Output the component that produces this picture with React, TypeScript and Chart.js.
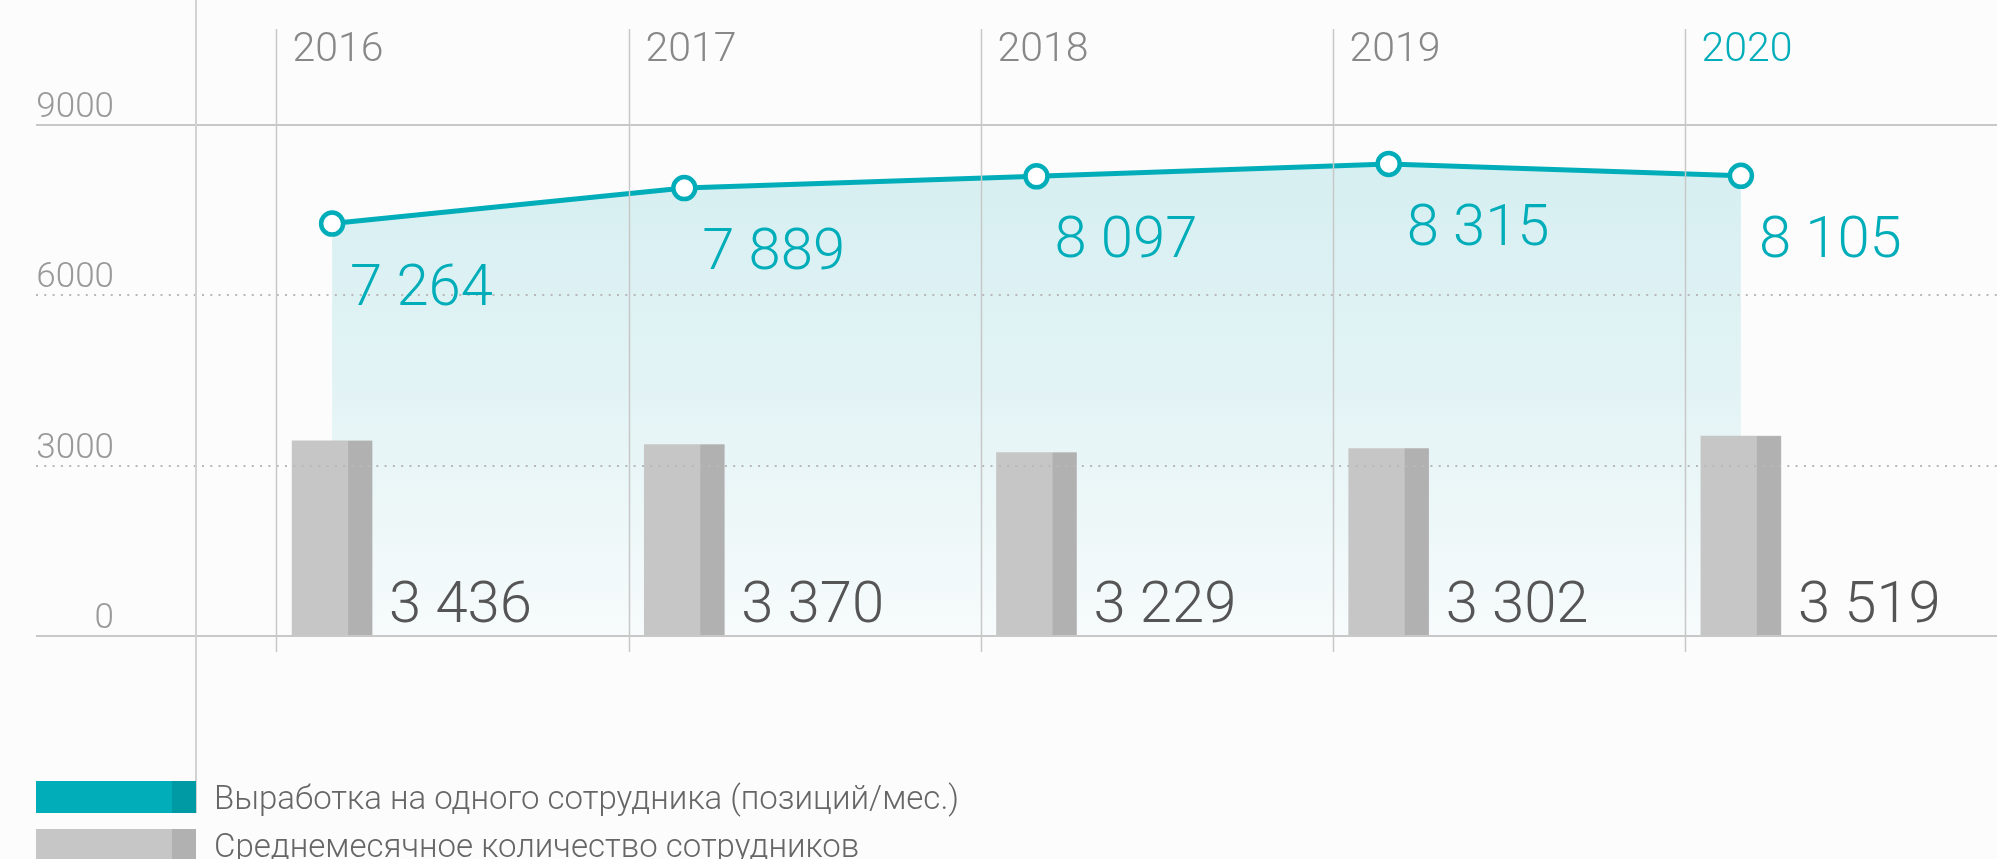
import React, { useEffect, useRef } from 'react';
import { Chart, registerables } from 'chart.js';

Chart.register(...registerables);

// ---- data ----
const YEARS = ['2016', '2017', '2018', '2019', '2020'];
const OUTPUT_PER_EMPLOYEE = [7264, 7889, 8097, 8315, 8105];
const AVG_EMPLOYEES = [3436, 3370, 3229, 3302, 3519];
const Y_TICKS = [0, 3000, 6000, 9000];
const SERIES_NAMES = [
  'Выработка на одного сотрудника (позиций/мес.)',
  'Среднемесячное количество сотрудников',
];

// ---- style ----
const TEAL = '#00adb9';
const TEAL_DARK = '#009aa4';
const BAR_LIGHT = '#c6c6c6';
const BAR_DARK = '#b1b1b1';
const BG = '#fcfcfc';
const FONT = 'Roboto, "Open Sans", sans-serif';
const W = 1997;
const H = 859;

const fmt = (n: number) => String(n).replace(/\B(?=(\d{3})+(?!\d))/g, ' ');

const decor = {
  id: 'decor',
  afterDatasetDraw(chart: any, args: any) {
    const meta = args.meta;
    if (meta.type !== 'bar') return;
    const ctx = chart.ctx;
    ctx.save();
    ctx.fillStyle = BAR_DARK;
    meta.data.forEach((el: any) => {
      const right = el.x + el.width / 2;
      const dw = el.width * 0.3;
      ctx.fillRect(right - dw, el.y, dw, el.base - el.y);
    });
    ctx.restore();
  },
  afterDatasetsDraw(chart: any) {
    const ctx = chart.ctx;
    const xs = chart.scales.x;
    const ys = chart.scales.y;
    const area = chart.chartArea;
    const step = xs.getPixelForValue(1) - xs.getPixelForValue(0);
    ctx.save();

    // horizontal grid lines
    const gridLeft = 36;
    Y_TICKS.forEach((t, i) => {
      const y = Math.round(ys.getPixelForValue(t));
      const solid = i === 0 || i === Y_TICKS.length - 1;
      ctx.beginPath();
      if (solid) {
        ctx.setLineDash([]);
        ctx.strokeStyle = '#c8c8c8';
        ctx.lineWidth = 2;
      } else {
        ctx.setLineDash([2, 6.3]);
        ctx.strokeStyle = '#b8b8b8';
        ctx.lineWidth = 2;
      }
      ctx.moveTo(gridLeft, y);
      ctx.lineTo(chart.width, y);
      ctx.stroke();
      // tick label
      ctx.setLineDash([]);
      ctx.fillStyle = '#999999';
      ctx.font = `300 35px ${FONT}`;
      ctx.textAlign = 'right';
      ctx.textBaseline = 'alphabetic';
      ctx.fillText(String(t), 114, y - 8);
    });

    // left vertical line
    ctx.setLineDash([]);
    ctx.strokeStyle = '#d2d2d2';
    ctx.lineWidth = 2;
    ctx.beginPath();
    ctx.moveTo(196, 0);
    ctx.lineTo(196, 813);
    ctx.stroke();

    // category lines and year labels
    YEARS.forEach((yr, i) => {
      const x = Math.round(xs.getPixelForValue(i) - step * 0.158) + 0.5;
      ctx.strokeStyle = '#c8c8c8';
      ctx.lineWidth = 1.5;
      ctx.beginPath();
      ctx.moveTo(x, area.top - 96);
      ctx.lineTo(x, area.bottom + 16);
      ctx.stroke();
      ctx.fillStyle = i === YEARS.length - 1 ? TEAL : '#888888';
      ctx.font = `300 41px ${FONT}`;
      ctx.textAlign = 'left';
      ctx.textBaseline = 'alphabetic';
      ctx.fillText(yr, x + 16, area.top - 64);
    });

    // value labels
    const lineMeta = chart.getDatasetMeta(0);
    const barMeta = chart.getDatasetMeta(1);
    ctx.font = `300 58px ${FONT}`;
    ctx.textAlign = 'left';
    ctx.textBaseline = 'alphabetic';
    lineMeta.data.forEach((pt: any, i: number) => {
      ctx.fillStyle = TEAL;
      ctx.fillText(fmt(OUTPUT_PER_EMPLOYEE[i]), pt.x + 18, pt.y + 81);
    });
    barMeta.data.forEach((b: any, i: number) => {
      ctx.fillStyle = '#555555';
      ctx.fillText(fmt(AVG_EMPLOYEES[i]), b.x + b.width / 2 + 17, b.base - 14);
    });
    ctx.restore();
  },
};

export default function App() {
  const ref = useRef<HTMLCanvasElement>(null);

  useEffect(() => {
    document.body.style.margin = '0';
    document.body.style.background = BG;
    const canvas = ref.current;
    if (!canvas) return;
    const chart = new Chart(canvas, {
      type: 'bar',
      data: {
        labels: YEARS,
        datasets: [
          {
            type: 'line',
            label: SERIES_NAMES[0],
            data: OUTPUT_PER_EMPLOYEE,
            borderColor: TEAL,
            borderWidth: 5,
            pointRadius: 11,
            pointHoverRadius: 11,
            pointBorderWidth: 4.5,
            pointBackgroundColor: '#ffffff',
            pointBorderColor: TEAL,
            tension: 0,
            fill: 'origin',
            backgroundColor: (c: any) => {
              const ch = c.chart;
              const a = ch.chartArea;
              if (!a) return 'rgba(0,0,0,0)';
              const g = ch.ctx.createLinearGradient(0, a.top, 0, a.bottom);
              g.addColorStop(0, '#d4eef0');
              g.addColorStop(0.5, '#e2f3f5');
              g.addColorStop(1, '#f7fbfb');
              return g;
            },
            order: 0,
          } as any,
          {
            type: 'bar',
            label: SERIES_NAMES[1],
            data: AVG_EMPLOYEES,
            backgroundColor: BAR_LIGHT,
            barThickness: 80,
            borderWidth: 0,
            order: 1,
          },
        ],
      },
      options: {
        responsive: false,
        animation: false,
        events: [],
        layout: { padding: { left: 156, right: 80, top: 125, bottom: 223 } },
        scales: {
          x: { display: false, offset: true },
          y: { display: false, min: 0, max: 9000 },
        },
        plugins: {
          legend: { display: false },
          tooltip: { enabled: false },
          filler: { drawTime: 'beforeDatasetsDraw' },
        } as any,
      },
      plugins: [decor],
    });
    return () => chart.destroy();
  }, []);

  const legendRow = (top: number, c1: string, c2: string, text: string) => (
    <div
      style={{
        position: 'absolute',
        left: 36,
        top,
        display: 'flex',
        alignItems: 'center',
        height: 32,
      }}
    >
      <div style={{ width: 136, height: 32, background: c1 }} />
      <div style={{ width: 24, height: 32, background: c2 }} />
      <span
        style={{
          marginLeft: 18,
          fontFamily: FONT,
          fontWeight: 300,
          fontSize: 33,
          color: '#666666',
          whiteSpace: 'nowrap',
        }}
      >
        {text}
      </span>
    </div>
  );

  return (
    <div
      style={{
        position: 'relative',
        width: W,
        height: H,
        background: BG,
        overflow: 'hidden',
      }}
    >
      <canvas ref={ref} width={W} height={H} style={{ display: 'block', width: W, height: H }} />
      {legendRow(781, TEAL, TEAL_DARK, SERIES_NAMES[0])}
      {legendRow(829, BAR_LIGHT, BAR_DARK, SERIES_NAMES[1])}
    </div>
  );
}
